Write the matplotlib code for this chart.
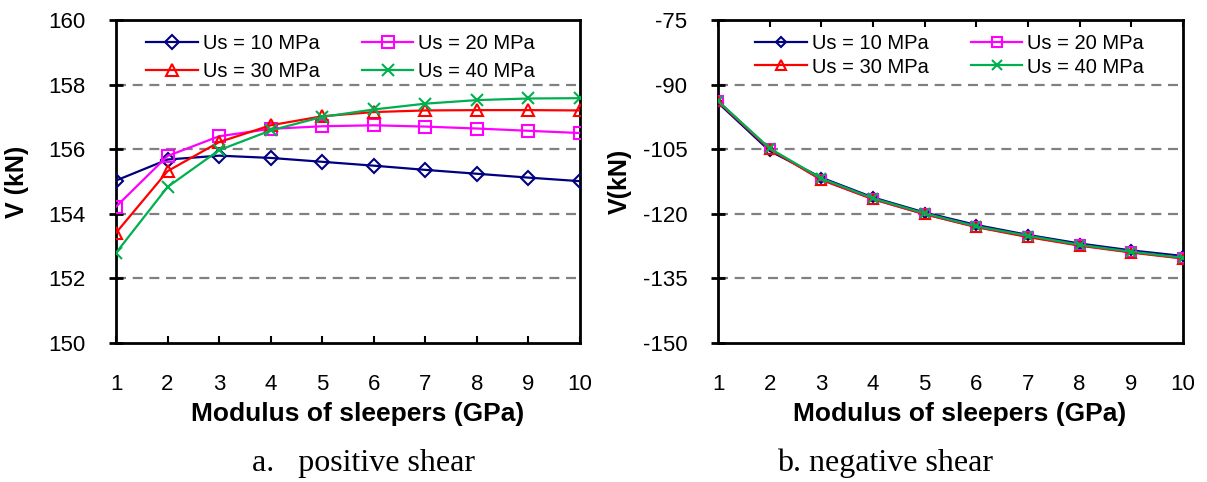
import matplotlib
matplotlib.use("Agg")
import matplotlib.pyplot as plt

plt.rcParams['font.family'] = ['Liberation Sans', 'DejaVu Sans']
plt.rcParams['axes.unicode_minus'] = False

# Modulus of sleepers (GPa)
modulus = [1, 2, 3, 4, 5, 6, 7, 8, 9, 10]
series_labels = ["Us = 10 MPa", "Us = 20 MPa", "Us = 30 MPa", "Us = 40 MPa"]

# Positive shear V (kN)
pos_us10 = [155.03, 155.68, 155.80, 155.73, 155.61, 155.49, 155.36, 155.24, 155.12, 155.01]
pos_us20 = [154.22, 155.79, 156.40, 156.63, 156.71, 156.74, 156.70, 156.64, 156.57, 156.50]
pos_us30 = [153.41, 155.32, 156.22, 156.74, 157.02, 157.15, 157.20, 157.21, 157.21, 157.20]
pos_us40 = [152.79, 154.83, 155.97, 156.58, 157.00, 157.23, 157.41, 157.52, 157.57, 157.58]

# Negative shear V (kN)
neg_us10 = [-94.2, -105.4, -111.6, -116.2, -119.7, -122.6, -124.9, -126.9, -128.5, -129.8]
neg_us20 = [-93.9, -104.9, -112.1, -116.6, -120.1, -123.0, -125.3, -127.3, -128.9, -130.3]
neg_us30 = [-93.9, -105.0, -112.1, -116.6, -120.1, -123.1, -125.4, -127.4, -129.0, -130.4]
neg_us40 = [-93.8, -104.8, -111.8, -116.4, -119.9, -122.9, -125.1, -127.2, -128.8, -130.2]

pos_ticks = [150, 152, 154, 156, 158, 160]
neg_ticks = [-150, -135, -120, -105, -90, -75]

colors = ["#000080", "#FF00FF", "#FF0000", "#00B050"]
markers = ["D", "s", "^", "x"]

fig = plt.figure(figsize=(12.07, 4.82), dpi=100)
ax1 = fig.add_axes([116 / 1207, 1 - 343 / 482, 464 / 1207, 323 / 482])
ax2 = fig.add_axes([718 / 1207, 1 - 343 / 482, 465 / 1207, 323 / 482])


def draw_panel(ax, data, yticks, msizes, ticks_top, leg_x, leg_spacing):
    handles = []
    for vals, col, mk, lab, ms in zip(data, colors, markers, series_labels, msizes):
        h, = ax.plot(modulus, vals, color=col, lw=1.6, marker=mk, ms=ms,
                     mfc="none", mec=col, mew=1.5, label=lab, zorder=3)
        handles.append(h)
    ax.set_xlim(modulus[0], modulus[-1])
    ax.set_ylim(yticks[0], yticks[-1])
    ax.set_xticks(modulus)
    ax.set_yticks(yticks)
    for y in yticks[1:-1]:
        ax.axhline(y, color="#808080", lw=1.6, ls=(0, (4.5, 3)), zorder=1)
    for sp in ax.spines.values():
        sp.set_linewidth(2.0)
        sp.set_color("black")
    ax.tick_params(axis="y", direction="inout", length=10, width=2,
                   labelsize=16, pad=17)
    ax.tick_params(axis="x", direction="in", length=5, width=1.5,
                   labelsize=16, pad=22, top=ticks_top, bottom=not ticks_top,
                   labelbottom=True, labeltop=False)
    ax.set_xlabel("Modulus of sleepers (GPa)", fontsize=19, fontweight="bold")
    ax.xaxis.set_label_coords(0.52, -0.183)
    # two rows: 10 & 20 MPa on top, 30 & 40 MPa below
    order = [0, 2, 1, 3]
    ax.legend([handles[i] for i in order], [series_labels[i] for i in order],
              loc="upper left", bbox_to_anchor=(leg_x, 1.0), ncol=2,
              frameon=False, fontsize=14.5, handlelength=2.55,
              handletextpad=0.25, columnspacing=2.1, labelspacing=leg_spacing,
              borderaxespad=0.3)


draw_panel(ax1, [pos_us10, pos_us20, pos_us30, pos_us40], pos_ticks,
           [7.5, 9, 9, 9], False, 0.035, 0.42)
draw_panel(ax2, [neg_us10, neg_us20, neg_us30, neg_us40], neg_ticks,
           [5.5, 7, 7, 7], True, 0.05, 0.22)

ax1.set_ylabel("V (kN)", fontsize=18, fontweight="bold")
ax1.yaxis.set_label_coords(-0.1875, 0.5)
ax2.set_ylabel("V(kN)", fontsize=18, fontweight="bold")
ax2.yaxis.set_label_coords(-0.185, 0.5)

serif = ["Liberation Serif", "DejaVu Serif"]
fig.text(364 / 1207, 1 - 463 / 482, "a.   positive shear", ha="center",
         va="center", fontsize=23, family=serif)
fig.text(885 / 1207, 1 - 463 / 482, "b. negative shear", ha="center",
         va="center", fontsize=23, family=serif)

fig.savefig("out.png", dpi=100)
